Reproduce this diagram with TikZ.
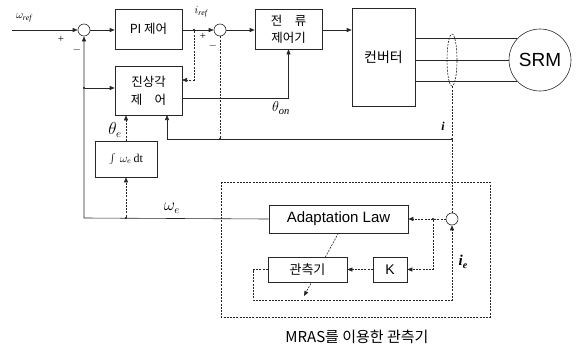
\documentclass[tikz,border=0pt]{standalone}
\usepackage{fontspec}
\setmainfont{Liberation Serif}
\newfontfamily\kr{Noto Sans CJK KR}
\newfontfamily\sans{Liberation Sans}
\usetikzlibrary{arrows.meta,shapes.geometric}
\tikzset{
  blk/.style={draw=black!85, fill=white, line width=0.6pt, inner sep=0pt, align=center, font=\kr\fontsize{12.5}{17}\selectfont},
  sumc/.style={circle, draw=black!85, fill=white, line width=0.6pt, minimum size=12pt, inner sep=0pt},
  arr/.style={-{Triangle[length=5pt,width=4pt]}},
  ln/.style={line width=0.6pt, black!85},
  dsh/.style={line width=0.6pt, black!85, dash pattern=on 2pt off 1.2pt},
  lbl/.style={inner sep=0pt},
  dotn/.style={circle, fill, inner sep=0pt, minimum size=2.4pt}
}
\begin{document}
\begin{tikzpicture}[x=1pt,y=-1pt]
\useasboundingbox (0,0) rectangle (580,348);
% blocks
\node[blk, minimum width=67pt, minimum height=40pt] (pi) at (148.5,29) {PI 제어};
\node[blk, minimum width=67pt, minimum height=49pt] (jin) at (148.5,90.5) {진상각\\[1pt]제\quad 어};
\node[blk, minimum width=67pt, minimum height=40pt] (cur) at (288.5,29) {전\quad 류\\제어기};
\node[blk, minimum width=63pt, minimum height=98pt, font=\kr\fontsize{14}{17}\selectfont] (conv) at (383.5,57) {컨버터};
\node[circle, draw=black!85, line width=0.6pt, minimum size=62pt, inner sep=0pt, font=\sans\fontsize{19}{22}\selectfont] (srm) at (540,60) {SRM};
\node[blk, minimum width=62pt, minimum height=36pt, font=\fontsize{12}{14}\selectfont] (int) at (126,159) {$\int\,\omega_e\,\mathrm{dt}$};
\node[sumc] (s1) at (84,30) {};
\node[sumc] (s2) at (220,30) {};
\node[ellipse, draw, dsh, minimum width=10pt, minimum height=52pt, inner sep=0pt] (ct) at (452,60) {};
% MRAS box
\draw[dsh] (221,182) rectangle (490,317);
\node[lbl, font=\kr\fontsize{15}{17}\selectfont] (mras) at (357,337) {MRAS를 이용한 관측기};
% diagonal adjustment arrow (behind observer)
\coordinate (da) at (338.5,233);
\coordinate (db) at (304,296);
\draw[dsh, arr] (da) -- (db);
\node[blk, minimum width=139pt, minimum height=28pt, font=\sans\fontsize{15}{17}\selectfont] (adapt) at (338.5,219) {Adaptation Law};
\node[blk, minimum width=34pt, minimum height=25pt, font=\sans\fontsize{14}{16}\selectfont] (K) at (390,269.5) {K};
\node[blk, minimum width=79pt, minimum height=25pt, font=\kr\fontsize{13}{15}\selectfont] (obs) at (307.5,269.5) {관측기};
\node[sumc] (s3) at (452,219) {};
% coordinates
\coordinate (in) at (12,30);
\node[dotn] (d1) at (194,30) {};
\coordinate (j1) at (182,80);
\coordinate (j2) at (182,98);
\node[dotn] (d3) at (452,139) {};
\node[dotn] (d2) at (220,139) {};
\coordinate (j3) at (167,139);
\coordinate (j3t) at (167,115);
\node[dotn] (d4) at (126,218) {};
\coordinate (c84) at (84,218);
\node[dotn] (d5) at (84,88) {};
\node[dotn] (d6) at (433,219) {};
\coordinate (b1) at (253,269.5);
\coordinate (b2) at (253,300);
\coordinate (b3) at (452,300);
% connectors
\draw[ln, arr] (in) -- (s1.west);
\draw[ln, arr] (s1.east) -- (pi.west |- s1.east);
\draw[ln, arr] (pi.east |- s2.west) -- (s2.west);
\draw[dsh, arr] (d1) |- (j1);
\draw[ln, arr] (s2.east) -- (cur.west |- s2.east);
\draw[ln, arr] (cur.east |- s2.east) -- (conv.west |- s2.east);
\draw[ln, arr] (j2) -| (cur.south);
\draw[ln] (conv.east |- srm.137) -- (srm.137);
\draw[ln] (conv.east |- srm.west) -- (srm.west);
\draw[ln] (conv.east |- srm.223) -- (srm.223);
\draw[dsh] (ct.south) -- (d3) -- (s3.north);
\draw[ln] (d3) -- (j3);
\draw[ln, arr] (j3) -- (j3t);
\draw[dsh] (s2.south) -- (d2);
\draw[dsh, arr] (int.north) -- (int.north |- jin.south);
\draw[ln, arr] (adapt.west) -- (c84) -- (s1.south);
\draw[dsh, arr] (d4) -- (int.south);
\draw[ln, arr] (d5) -- (jin.west |- d5);
\draw[dsh, arr] (s3.west) -- (adapt.east);
\draw[dsh, arr] (d6) |- (K.east);
\draw[dsh, arr] (K.west) -- (obs.east);
\draw[dsh, arr] (obs.west) -- (b1) -- (b2) -- (b3) -- (s3.south);
% labels
\node[lbl, font=\fontsize{11}{12}\selectfont] (lwref) at (24,18) {$\omega_{\mathit{ref}}$};
\node[lbl, font=\fontsize{11}{12}\selectfont] (lp1) at (61,39) {+};
\node[lbl, font=\fontsize{11}{12}\selectfont] (lm1) at (77,50) {$-$};
\node[lbl, font=\fontsize{11}{12}\selectfont] (liref) at (201,12) {$i_{\mathit{ref}}$};
\node[lbl, font=\fontsize{11}{12}\selectfont] (lp2) at (203,36) {+};
\node[lbl, font=\fontsize{11}{12}\selectfont] (lm2) at (213,46) {$-$};
\node[lbl, font=\fontsize{15}{16}\selectfont] (lon) at (281,108) {$\theta_{\mathit{on}}$};
\node[lbl, font=\fontsize{16}{17}\selectfont] (lte) at (115,130) {$\theta_e$};
\node[lbl, font=\fontsize{16}{17}\selectfont] (lwe) at (172,208) {$\omega_e$};
\node[lbl, font=\fontsize{12}{13}\selectfont\bfseries\itshape] (li) at (443,126) {i};
\node[lbl, font=\fontsize{15}{16}\selectfont\bfseries\itshape] (lie) at (463,262) {i\raisebox{-3pt}{\fontsize{10}{11}\selectfont e}};
\end{tikzpicture}
\end{document}
